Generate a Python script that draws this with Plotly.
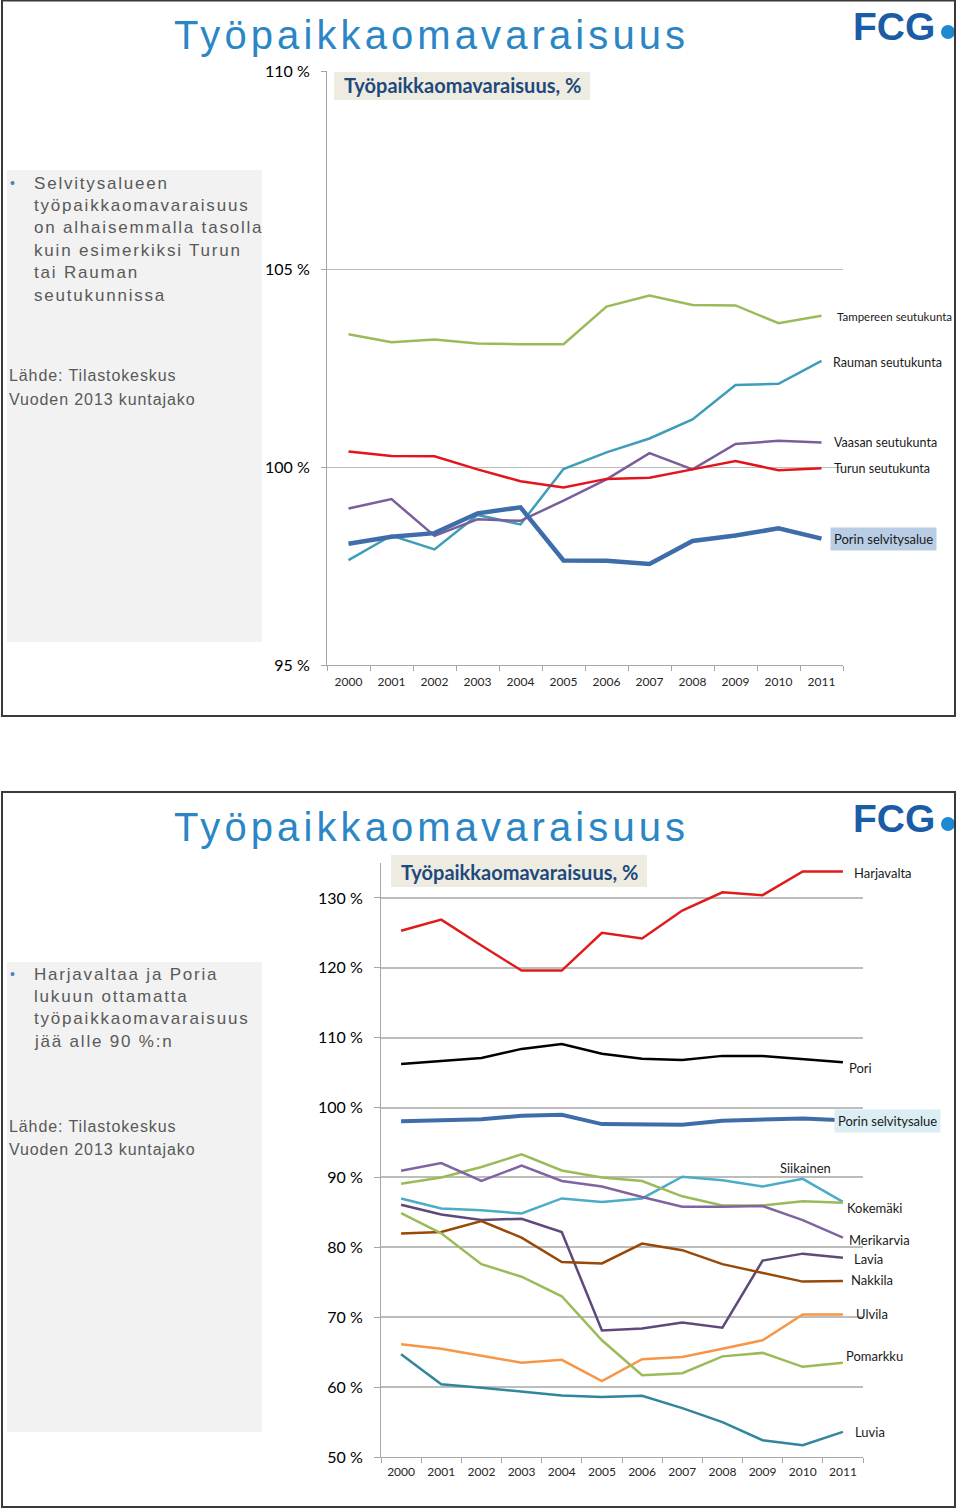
import plotly.graph_objects as go

W, H = 960, 1511
years = ["2000", "2001", "2002", "2003", "2004", "2005", "2006", "2007", "2008", "2009", "2010", "2011"]

# ---- Slide 1 data (%)
tampere = [103.35, 103.15, 103.22, 103.12, 103.10, 103.10, 104.05, 104.33, 104.09, 104.08, 103.63, 103.82]
rauma = [97.65, 98.27, 97.92, 98.79, 98.55, 99.95, 100.37, 100.72, 101.20, 102.07, 102.10, 102.68]
vaasa = [98.95, 99.19, 98.26, 98.68, 98.64, 99.15, 99.69, 100.35, 99.94, 100.58, 100.66, 100.62]
turku = [100.39, 100.28, 100.27, 99.94, 99.64, 99.48, 99.70, 99.73, 99.94, 100.15, 99.92, 99.97]
porin_sa = [98.06, 98.24, 98.33, 98.83, 98.98, 97.64, 97.63, 97.55, 98.13, 98.27, 98.45, 98.19]

# ---- Slide 2 data (%)
harjavalta = [125.3, 126.9, 123.2, 119.6, 119.6, 125.0, 124.2, 128.2, 130.8, 130.4, 133.8, 133.8]
pori = [106.25, 106.7, 107.1, 108.4, 109.1, 107.7, 107.0, 106.8, 107.4, 107.4, 106.9, 106.5]
siikainen = [87.0, 85.56, 85.3, 84.85, 87.0, 86.5, 87.0, 90.1, 89.6, 88.7, 89.8, 86.5]
kokemaki = [89.1, 90.0, 91.5, 93.3, 91.0, 90.0, 89.5, 87.3, 86.0, 86.0, 86.6, 86.4]
merikarvia = [90.95, 92.05, 89.5, 91.7, 89.5, 88.7, 87.2, 85.8, 85.8, 85.9, 83.9, 81.4]
lavia = [86.1, 84.7, 83.9, 84.1, 82.2, 68.1, 68.4, 69.25, 68.5, 78.1, 79.1, 78.5]
nakkila = [82.0, 82.2, 83.75, 81.4, 77.9, 77.7, 80.55, 79.6, 77.6, 76.35, 75.1, 75.2]
ulvila = [66.15, 65.5, 64.5, 63.5, 63.9, 60.85, 64.0, 64.3, 65.5, 66.7, 70.4, 70.4]
pomarkku = [84.9, 82.0, 77.6, 75.8, 73.0, 66.7, 61.7, 62.0, 64.4, 64.9, 62.9, 63.5]
luvia = [64.7, 60.4, 59.9, 59.3, 58.8, 58.6, 58.75, 57.0, 55.0, 52.4, 51.7, 53.6]

y1_ticks = [95, 100, 105, 110]
y2_ticks = [50, 60, 70, 80, 90, 100, 110, 120, 130]

slide_title = "Työpaikkaomavaraisuus"
chart_title = "Työpaikkaomavaraisuus, %"
bullet1 = ["Selvitysalueen", "työpaikkaomavaraisuus", "on alhaisemmalla tasolla",
           "kuin esimerkiksi Turun", "tai Rauman", "seutukunnissa"]
bullet2 = ["Harjavaltaa ja Poria", "lukuun ottamatta", "työpaikkaomavaraisuus", "jää alle 90 %:n"]
source = ["Lähde: Tilastokeskus", "Vuoden 2013 kuntajako"]


def px(x):
    return x / W


def py(y):
    return 1 - y / H


fig = go.Figure()

LAST = len(years) - 1  # category index of 2011

# slide 1 series: (name, values, color, width, label value, xshift, font size, bg)
s1 = [
    ("Tampereen seutukunta", tampere, "#9BBB59", 2.5, 103.79, 13, 11.5, None),
    ("Rauman seutukunta", rauma, "#3E9DB8", 2.5, 102.65, 9, 12.5, None),
    ("Vaasan seutukunta", vaasa, "#7A5E9C", 2.5, 100.63, 10, 12.5, None),
    ("Turun seutukunta", turku, "#E3151C", 2.5, 99.97, 10, 12.5, None),
    ("Porin selvitysalue", porin_sa, "#3F6DAA", 4.5, 98.18, 8, 13, "#B9CDE5"),
]
for name, vals, col, wd, *_ in s1:
    fig.add_trace(go.Scatter(x=years, y=vals, mode="lines", name=name,
                             line=dict(color=col, width=wd), xaxis="x", yaxis="y",
                             showlegend=False, hoverinfo="skip"))

s2 = [
    ("Harjavalta", harjavalta, "#E01B1B", 2.5, 133.6, 9, 13, None),
    ("Pori", pori, "#000000", 2.5, 105.6, 4, 13, None),
    ("Siikainen", siikainen, "#4BACC6", 2.5, None, 0, 13, None),
    ("Kokemäki", kokemaki, "#9BBB59", 2.5, 85.7, 2, 13, None),
    ("Merikarvia", merikarvia, "#8064A2", 2.5, 81.0, 4, 13, None),
    ("Lavia", lavia, "#5F497A", 2.5, 78.4, 9, 13, None),
    ("Nakkila", nakkila, "#984807", 2.5, 75.4, 6, 13, None),
    ("Ulvila", ulvila, "#F79646", 2.5, 70.4, 11, 13, None),
    ("Pomarkku", pomarkku, "#9BBB59", 2.5, 64.4, 1, 13, None),
    ("Luvia", luvia, "#31859C", 2.5, 53.6, 10, 13, None),
    ("Porin selvitysalue", porin_sa, "#3F6DAA", 4, 98.1, -9, 13, "#DAEEF3"),
]
for name, vals, col, wd, *_ in s2:
    fig.add_trace(go.Scatter(x=years, y=vals, mode="lines", name=name,
                             line=dict(color=col, width=wd), xaxis="x2", yaxis="y2",
                             showlegend=False, hoverinfo="skip"))

annotations = []
label_font = "Lato, Liberation Sans, sans-serif"
for name, vals, col, wd, lv, xs, fs, bg in s1:
    a = dict(x=LAST, y=lv, xref="x", yref="y", text=name, showarrow=False,
             xanchor="left", yanchor="middle", xshift=xs,
             font=dict(family=label_font, size=fs, color="#1a1a1a"))
    if bg:
        a.update(bgcolor=bg, borderpad=3)
    annotations.append(a)
for name, vals, col, wd, lv, xs, fs, bg in s2:
    if lv is None:
        continue
    a = dict(x=LAST, y=lv, xref="x2", yref="y2", text=name, showarrow=False,
             xanchor="left", yanchor="middle", xshift=xs,
             font=dict(family=label_font, size=fs, color="#1a1a1a"))
    if bg:
        a.update(bgcolor=bg, borderpad=3)
    annotations.append(a)
annotations.append(dict(x=LAST - 1, y=91.4, xref="x2", yref="y2", text="Siikainen", showarrow=False,
                        xanchor="center", yanchor="middle", xshift=3,
                        font=dict(family=label_font, size=13, color="#1a1a1a")))

body_font = "Liberation Sans, Arial, sans-serif"


def spaced(t, ls):
    return f'<span style="letter-spacing:{ls}px">{t}</span>'


for top in (0, 792):
    annotations.append(dict(x=px(431), y=py(top + 35), xref="paper", yref="paper",
                            text=spaced(slide_title, 4.1), showarrow=False,
                            xanchor="center", yanchor="middle",
                            font=dict(family=body_font, size=40, color="#2B86C5")))
    annotations.append(dict(x=px(851), y=py(top + 26), xref="paper", yref="paper",
                            text="<b>FCG</b>", showarrow=False, xanchor="left", yanchor="middle",
                            font=dict(family="Liberation Sans, Arial, sans-serif", size=39, color="#1B5CA6")))

for (cx, cy) in ((462, 85), (519, 872)):
    annotations.append(dict(x=px(cx), y=py(cy), xref="paper", yref="paper",
                            text="<b>" + chart_title + "</b>", showarrow=False,
                            xanchor="center", yanchor="middle",
                            font=dict(family="Lato, sans-serif", size=20, color="#1F497D")))

for lines, y0 in ((bullet1, 183), (bullet2, 974)):
    annotations.append(dict(x=px(8), y=py(y0), xref="paper", yref="paper", text="•",
                            showarrow=False, xanchor="left", yanchor="middle",
                            font=dict(family=body_font, size=14, color="#4F81BD")))
    for i, t in enumerate(lines):
        annotations.append(dict(x=px(32), y=py(y0 + i * 22.4), xref="paper", yref="paper",
                                text=spaced(t, 1.8), showarrow=False,
                                xanchor="left", yanchor="middle",
                                font=dict(family=body_font, size=17, color="#595959")))
for y0 in (376, 1126):
    for i, t in enumerate(source):
        annotations.append(dict(x=px(7), y=py(y0 + i * 23), xref="paper", yref="paper",
                                text=spaced(t, 0.9), showarrow=False,
                                xanchor="left", yanchor="middle",
                                font=dict(family=body_font, size=16, color="#595959")))

shapes = []
for (y0, y1) in ((170, 642), (962, 1432)):
    shapes.append(dict(type="rect", xref="paper", yref="paper", x0=px(7), x1=px(262),
                       y0=py(y0), y1=py(y1), fillcolor="#F2F2F2", line=dict(width=0), layer="below"))
for (x0, x1, y0, y1) in ((334, 590, 72, 100), (391, 647, 855, 887)):
    shapes.append(dict(type="rect", xref="paper", yref="paper", x0=px(x0), x1=px(x1),
                       y0=py(y0), y1=py(y1), fillcolor="#EEECE1", line=dict(width=0), layer="below"))
for cy in (32, 824):
    shapes.append(dict(type="circle", xref="paper", yref="paper", x0=px(941), x1=px(955),
                       y0=py(cy - 7), y1=py(cy + 7), fillcolor="#1E88D2", line=dict(width=0)))
shapes.append(dict(type="rect", xref="paper", yref="paper", x0=px(779), x1=px(835),
                   y0=py(1175), y1=py(1180), fillcolor="white", line=dict(width=0), layer="between"))
for (y0, y1) in ((0.5, 716), (792, 1507)):
    shapes.append(dict(type="rect", xref="paper", yref="paper", x0=px(2), x1=px(955),
                       y0=py(y0), y1=py(y1), fillcolor="rgba(0,0,0,0)",
                       line=dict(color="#3a3a3a", width=2)))

tickfont_x = dict(family="Lato, sans-serif", size=12, color="#262626")
tickfont_y = dict(family="Lato, sans-serif", size=16, color="#000000")

fig.update_layout(
    width=W, height=H, margin=dict(l=0, r=0, t=0, b=0, pad=0, autoexpand=False),
    paper_bgcolor="white", plot_bgcolor="rgba(0,0,0,0)",
    showlegend=False,
    xaxis=dict(domain=[px(327), px(843)], anchor="y", type="category", range=[-0.5, 11.5],
               categoryarray=years, tickson="boundaries", ticks="outside", ticklen=5,
               tickcolor="#A6A6A6", showline=True, linecolor="#A6A6A6", linewidth=1,
               showgrid=False, tickfont=tickfont_x, ticklabelstandoff=6, automargin=False),
    yaxis=dict(domain=[py(665), py(71)], anchor="x", range=[95, 110], tickmode="array",
               tickvals=y1_ticks, ticktext=[f"{v} %" for v in y1_ticks],
               ticks="outside", ticklen=5, tickcolor="#A6A6A6",
               showline=True, linecolor="#A6A6A6", linewidth=1,
               showgrid=True, gridcolor="#BDBDBD", gridwidth=1, zeroline=False,
               tickfont=tickfont_y, ticklabelstandoff=8, automargin=False),
    xaxis2=dict(domain=[px(381), px(863)], anchor="y2", type="category", range=[-0.5, 11.5],
                categoryarray=years, tickson="boundaries", ticks="outside", ticklen=5,
                tickcolor="#A6A6A6", showline=True, linecolor="#A6A6A6", linewidth=1,
                showgrid=False, tickfont=tickfont_x, ticklabelstandoff=4, automargin=False),
    yaxis2=dict(domain=[py(1457), py(863)], anchor="x2", range=[50, 135], tickmode="array",
                tickvals=y2_ticks, ticktext=[f"{v} %" for v in y2_ticks],
                ticks="outside", ticklen=6, tickcolor="#A6A6A6",
                showline=True, linecolor="#A6A6A6", linewidth=1,
                showgrid=True, gridcolor="#BDBDBD", gridwidth=1.5, zeroline=False,
                tickfont=tickfont_y, ticklabelstandoff=8, automargin=False),
    annotations=annotations,
    shapes=shapes,
)

fig.write_html("out.html", config={"displayModeBar": False},
               post_script="document.body.style.margin='0';document.body.style.padding='0';")
